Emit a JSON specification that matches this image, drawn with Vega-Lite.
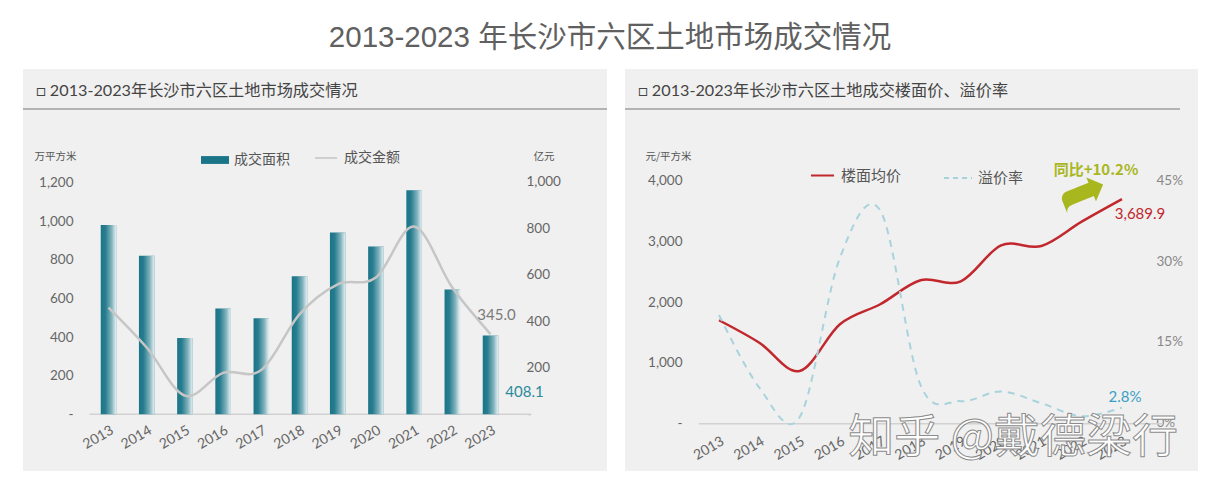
{
  "$schema": "https://vega.github.io/schema/vega-lite/v6.json",
  "background": "white",
  "padding": {"left": 22, "top": 23, "right": 29, "bottom": 16},
  "title": {"text": "2013-2023 年长沙市六区土地市场成交情况", "fontSize": 29.5, "font": "Liberation Sans, Noto Sans CJK SC", "fontWeight": "normal", "color": "#606060", "anchor": "middle", "offset": 15.5},
  "spacing": 16,
  "config": {
    "view": {"stroke": null},
    "axis": {"grid": false, "domain": false, "ticks": false, "tickSize": 0, "labelPadding": 0, "labelFont": "Lato", "labelFontSize": 13.5, "labelColor": "#666666", "labelOverlap": false, "titleFont": "Noto Sans CJK SC", "titleFontSize": 10.5, "titleColor": "#555555", "titleFontWeight": "normal"},
    "legend": {"labelFont": "Noto Sans CJK SC", "labelColor": "#555555", "padding": 0}
  },
  "resolve": {"scale": {"x": "independent", "y": "independent", "fill": "independent", "stroke": "independent", "color": "independent"}},
  "hconcat": [
    {
      "width": 584,
      "height": 402,
      "view": {"fill": "#f0f0f0", "stroke": null},
      "title": {"text": "□ 2013-2023年长沙市六区土地市场成交情况", "anchor": "start", "frame": "group", "offset": -30, "dx": 13, "fontSize": 16.2, "font": "Lato, Noto Sans CJK SC", "fontWeight": "normal", "color": "#444444"},
      "data": {"values": [
        {"year": 2013, "area": 981, "amount": 459},
        {"year": 2014, "area": 821, "amount": 287},
        {"year": 2015, "area": 395, "amount": 80},
        {"year": 2016, "area": 548, "amount": 178},
        {"year": 2017, "area": 498, "amount": 190},
        {"year": 2018, "area": 715, "amount": 430},
        {"year": 2019, "area": 941, "amount": 559},
        {"year": 2020, "area": 869, "amount": 588},
        {"year": 2021, "area": 1160, "amount": 808},
        {"year": 2022, "area": 647, "amount": 545},
        {"year": 2023, "area": 408.1, "amount": 345}
      ]},
      "layer": [
        {
          "layer": [
            {
              "data": {"values": [{}]},
              "mark": {"type": "rule", "color": "#b3b3b3", "strokeWidth": 2},
              "encoding": {
                "y": {"datum": 1581, "type": "quantitative", "scale": {"domain": [-293.7, 1788.4], "nice": false, "zero": false}}
              }
            },
            {
              "data": {"values": [{}]},
              "mark": {"type": "rule", "color": "#d2d2d2", "strokeWidth": 1.5},
              "encoding": {
                "x": {"datum": 2012.5, "type": "quantitative", "scale": {"domain": [2010.762, 2026.05], "nice": false, "zero": false, "padding": 0}},
                "x2": {"datum": 2024.05},
                "y": {"datum": 0, "type": "quantitative", "scale": {"domain": [-293.7, 1788.4], "nice": false, "zero": false}}
              }
            },
            {
              "mark": {"type": "bar", "width": 15.5},
              "encoding": {
                "x": {"field": "year", "type": "quantitative", "title": null, "scale": {"domain": [2010.762, 2026.05], "nice": false, "zero": false, "padding": 0}, "axis": {"orient": "bottom", "offset": -48, "values": [2013, 2014, 2015, 2016, 2017, 2018, 2019, 2020, 2021, 2022, 2023], "format": "d", "labelAngle": -30, "labelFontSize": 14, "title": null}},
                "y": {"field": "area", "type": "quantitative", "scale": {"domain": [-293.7, 1788.4], "nice": false, "zero": false}, "axis": {"orient": "left", "offset": -50, "values": [0, 200, 400, 600, 800, 1000, 1200], "labelExpr": "datum.value == 0 ? '-' : format(datum.value, ',')", "title": "万平方米", "titleAngle": 0, "titleX": -39, "titleY": 87, "titleAlign": "left", "titleBaseline": "middle"}},
                "y2": {"datum": 0},
                "fill": {"datum": "成交面积", "type": "nominal", "scale": {"domain": ["成交面积"], "range": ["#1a7588"]}, "legend": {"title": null, "orient": "none", "legendX": 178, "legendY": 77, "symbolType": "M-1,-0.28L1,-0.28L1,0.28L-1,0.28Z", "symbolSize": 784, "symbolStrokeWidth": 0, "labelFontSize": 14, "labelOffset": 5}}
              }
            },
            {
              "mark": {"type": "bar", "width": 15.5, "fill": {"gradient": "linear", "x1": 0, "y1": 0, "x2": 1, "y2": 0, "stops": [{"offset": 0, "color": "rgba(255,255,255,0)"}, {"offset": 0.3, "color": "rgba(255,255,255,0.06)"}, {"offset": 0.7, "color": "rgba(255,255,255,0.45)"}, {"offset": 1, "color": "rgba(255,255,255,0.9)"}]}},
              "encoding": {
                "x": {"field": "year", "type": "quantitative", "title": null, "scale": {"domain": [2010.762, 2026.05], "nice": false, "zero": false, "padding": 0}},
                "y": {"field": "area", "type": "quantitative", "scale": {"domain": [-293.7, 1788.4], "nice": false, "zero": false}},
                "y2": {"datum": 0}
              }
            },
            {
              "transform": [{"filter": "datum.year == 2023"}],
              "mark": {"type": "text", "dx": 34, "dy": 56, "fontSize": 15, "color": "#2b8a9c", "font": "Lato"},
              "encoding": {
                "x": {"field": "year", "type": "quantitative", "title": null, "scale": {"domain": [2010.762, 2026.05], "nice": false, "zero": false, "padding": 0}},
                "y": {"field": "area", "type": "quantitative", "scale": {"domain": [-293.7, 1788.4], "nice": false, "zero": false}},
                "text": {"field": "area", "type": "quantitative", "format": ".1f"}
              }
            }
          ]
        },
        {
          "layer": [
            {
              "mark": {"type": "line", "interpolate": "cardinal", "strokeWidth": 2.5},
              "encoding": {
                "x": {"field": "year", "type": "quantitative", "title": null, "scale": {"domain": [2010.762, 2026.05], "nice": false, "zero": false, "padding": 0}},
                "y": {"field": "amount", "type": "quantitative", "scale": {"domain": [-244.4, 1485.8], "nice": false, "zero": false}, "axis": {"orient": "right", "offset": -81, "values": [0, 200, 400, 600, 800, 1000], "labelExpr": "datum.value == 0 ? '-' : format(datum.value, ',')", "title": "亿元", "titleAngle": 0, "titleX": 7, "titleY": 87, "titleAlign": "left", "titleBaseline": "middle"}},
                "stroke": {"datum": "成交金额", "type": "nominal", "scale": {"domain": ["成交金额"], "range": ["#c6c6c6"]}, "legend": {"title": null, "orient": "none", "legendX": 291, "legendY": 77, "symbolType": "stroke", "symbolSize": 484, "symbolStrokeWidth": 1.5, "labelFontSize": 14, "labelOffset": 6}}
              }
            },
            {
              "transform": [{"filter": "datum.year == 2023"}],
              "mark": {"type": "text", "dx": 6, "dy": -19, "fontSize": 15, "color": "#7a7a7a", "font": "Lato"},
              "encoding": {
                "x": {"field": "year", "type": "quantitative", "title": null, "scale": {"domain": [2010.762, 2026.05], "nice": false, "zero": false, "padding": 0}},
                "y": {"field": "amount", "type": "quantitative", "scale": {"domain": [-244.4, 1485.8], "nice": false, "zero": false}},
                "text": {"field": "amount", "type": "quantitative", "format": ".1f"}
              }
            }
          ]
        }
      ],
      "resolve": {"scale": {"y": "independent"}}
    },
    {
      "width": 573,
      "height": 402,
      "view": {"fill": "#f0f0f0", "stroke": null},
      "title": {"text": "□ 2013-2023年长沙市六区土地成交楼面价、溢价率", "anchor": "start", "frame": "group", "offset": -30, "dx": 13, "fontSize": 16.2, "font": "Lato, Noto Sans CJK SC", "fontWeight": "normal", "color": "#444444"},
      "data": {"values": [
        {"year": 2013, "price": 1700, "rate": 0.2},
        {"year": 2014, "price": 1331, "rate": 0.065},
        {"year": 2015, "price": 866, "rate": 0.01},
        {"year": 2016, "price": 1634, "rate": 0.306},
        {"year": 2017, "price": 1963, "rate": 0.394},
        {"year": 2018, "price": 2357, "rate": 0.07},
        {"year": 2019, "price": 2340, "rate": 0.04},
        {"year": 2020, "price": 2930, "rate": 0.058},
        {"year": 2021, "price": 2920, "rate": 0.036},
        {"year": 2022, "price": 3320, "rate": 0.012},
        {"year": 2023, "price": 3689.9, "rate": 0.028}
      ]},
      "layer": [
        {
          "layer": [
            {
              "data": {"values": [{}]},
              "mark": {"type": "rule", "color": "#b3b3b3", "strokeWidth": 2},
              "encoding": {
                "x": {"datum": 2010.667, "type": "quantitative", "scale": {"domain": [2010.667, 2024.886], "nice": false, "zero": false, "padding": 0}},
                "x2": {"datum": 2024.44},
                "y": {"datum": 5172, "type": "quantitative", "scale": {"domain": [-777, 5829], "nice": false, "zero": false}}
              }
            },
            {
              "data": {"values": [{}]},
              "mark": {"type": "rule", "color": "#d2d2d2", "strokeWidth": 1.5},
              "encoding": {
                "x": {"datum": 2012.5, "type": "quantitative", "scale": {"domain": [2010.667, 2024.886], "nice": false, "zero": false, "padding": 0}},
                "x2": {"datum": 2024.02},
                "y": {"datum": 0, "type": "quantitative", "scale": {"domain": [-777, 5829], "nice": false, "zero": false}}
              }
            },
            {
              "mark": {"type": "line", "interpolate": "cardinal", "strokeWidth": 2.5},
              "encoding": {
                "x": {"field": "year", "type": "quantitative", "title": null, "scale": {"domain": [2010.667, 2024.886], "nice": false, "zero": false, "padding": 0}, "axis": {"orient": "bottom", "offset": -37, "values": [2013, 2014, 2015, 2016, 2017, 2018, 2019, 2020, 2021, 2022, 2023], "format": "d", "labelAngle": -30, "labelFontSize": 14, "title": null}},
                "y": {"field": "price", "type": "quantitative", "scale": {"domain": [-777, 5829], "nice": false, "zero": false}, "axis": {"orient": "left", "offset": -57, "values": [0, 1000, 2000, 3000, 4000], "labelExpr": "datum.value == 0 ? '-' : format(datum.value, ',')", "title": "元/平方米", "titleAngle": 0, "titleX": -37, "titleY": 87, "titleAlign": "left", "titleBaseline": "middle"}},
                "stroke": {"datum": "楼面均价", "type": "nominal", "scale": {"domain": ["楼面均价"], "range": ["#c1272d"]}, "legend": {"title": null, "orient": "none", "legendX": 185, "legendY": 94, "symbolType": "stroke", "symbolSize": 529, "symbolStrokeWidth": 2, "labelFontSize": 15, "labelOffset": 6}}
              }
            },
            {
              "transform": [{"filter": "datum.year == 2023"}],
              "mark": {"type": "text", "dx": 18, "dy": 15, "fontSize": 15, "color": "#c1272d", "font": "Lato"},
              "encoding": {
                "x": {"field": "year", "type": "quantitative", "title": null, "scale": {"domain": [2010.667, 2024.886], "nice": false, "zero": false, "padding": 0}},
                "y": {"field": "price", "type": "quantitative", "scale": {"domain": [-777, 5829], "nice": false, "zero": false}},
                "text": {"field": "price", "type": "quantitative", "format": ",.1f"}
              }
            },
            {
              "data": {"values": [{}]},
              "mark": {"type": "text", "dx": -26, "dy": -29, "fontSize": 15, "fontWeight": "bold", "color": "#a9b71f", "font": "Noto Sans CJK SC", "text": "同比+10.2%"},
              "encoding": {
                "x": {"datum": 2023, "type": "quantitative", "scale": {"domain": [2010.667, 2024.886], "nice": false, "zero": false, "padding": 0}},
                "y": {"datum": 3689.9, "type": "quantitative", "scale": {"domain": [-777, 5829], "nice": false, "zero": false}}
              }
            },
            {
              "data": {"values": [{}]},
              "mark": {"type": "text", "fontSize": 60, "color": "#a9b71f", "font": "DejaVu Sans", "text": "➦", "baseline": "middle", "align": "center", "angle": -22},
              "encoding": {
                "x": {"datum": 2022.03, "type": "quantitative", "scale": {"domain": [2010.667, 2024.886], "nice": false, "zero": false, "padding": 0}},
                "y": {"datum": 3780, "type": "quantitative", "scale": {"domain": [-777, 5829], "nice": false, "zero": false}}
              }
            }
          ]
        },
        {
          "layer": [
            {
              "mark": {"type": "line", "interpolate": "cardinal", "strokeWidth": 2, "strokeDash": [7, 6]},
              "encoding": {
                "x": {"field": "year", "type": "quantitative", "title": null, "scale": {"domain": [2010.667, 2024.886], "nice": false, "zero": false, "padding": 0}},
                "y": {"field": "rate", "type": "quantitative", "scale": {"domain": [-0.0897, 0.6566], "nice": false, "zero": false}, "axis": {"orient": "right", "offset": -42, "values": [0, 0.15, 0.3, 0.45], "format": ".0%", "labelColor": "#888888", "title": null}},
                "color": {"datum": "溢价率", "type": "nominal", "scale": {"domain": ["溢价率"], "range": ["#a9d3dc"]}, "legend": {"title": null, "orient": "none", "legendX": 318, "legendY": 94, "symbolType": "stroke", "symbolSize": 784, "symbolStrokeWidth": 2, "symbolDash": [5, 4], "labelFontSize": 15, "labelOffset": 5}}
              }
            },
            {
              "transform": [{"filter": "datum.year == 2023"}],
              "mark": {"type": "text", "dx": 3, "dy": -11, "fontSize": 15, "color": "#3a9fc6", "font": "Lato"},
              "encoding": {
                "x": {"field": "year", "type": "quantitative", "title": null, "scale": {"domain": [2010.667, 2024.886], "nice": false, "zero": false, "padding": 0}},
                "y": {"field": "rate", "type": "quantitative", "scale": {"domain": [-0.0897, 0.6566], "nice": false, "zero": false}},
                "text": {"field": "rate", "type": "quantitative", "format": ".1%"}
              }
            },
            {
              "data": {"values": [{}]},
              "mark": {"type": "text", "fontSize": 46, "fill": "#ffffff", "stroke": "#8c8c8c", "strokeWidth": 1, "font": "Noto Sans CJK SC", "text": "知乎 @戴德梁行", "baseline": "middle", "align": "center"},
              "encoding": {
                "x": {"datum": 2020.3, "type": "quantitative", "scale": {"domain": [2010.667, 2024.886], "nice": false, "zero": false, "padding": 0}},
                "y": {"datum": -0.0284, "type": "quantitative", "scale": {"domain": [-0.0897, 0.6566], "nice": false, "zero": false}}
              }
            }
          ]
        }
      ],
      "resolve": {"scale": {"y": "independent"}}
    }
  ]
}
